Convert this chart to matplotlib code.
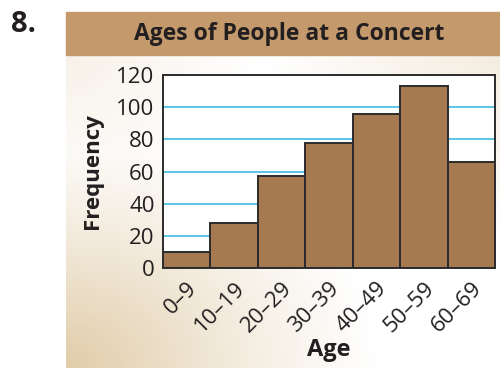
import numpy as np
import matplotlib.pyplot as plt
from matplotlib.patches import Rectangle

# histogram data
age_groups = ['0–9', '10–19', '20–29', '30–39', '40–49', '50–59', '60–69']
frequency = [10, 28, 57, 78, 96, 113, 66]
y_ticks = [0, 20, 40, 60, 80, 100, 120]

plt.rcParams['font.family'] = ['Open Sans', 'DejaVu Sans']
W, H = 500, 368
fig = plt.figure(figsize=(W / 100, H / 100), dpi=100)

# panel background with a soft beige gradient
bg = fig.add_axes([66 / W, 0, (W - 66) / W, (H - 55) / H])
bg.axis('off')
gx, gy = np.meshgrid(np.linspace(0, 1, 200), np.linspace(1, 0, 150))
d_bl = np.sqrt((gx * 1.1) ** 2 + gy ** 2)
w = np.clip(1 - d_bl / 0.8, 0, 1) ** 1.2
d_tr = np.sqrt(((1 - gx) * 1.1) ** 2 + (1 - gy) ** 2)
w = np.maximum(w, 0.35 * np.clip(1 - d_tr / 0.6, 0, 1))
w = np.maximum(w, 0.25 * np.clip(1 - np.sqrt((gx * 1.1) ** 2 + (1 - gy) ** 2) / 0.5, 0, 1))
beige = np.array([0.88, 0.80, 0.66])
img = (1 - w[..., None]) * np.ones(3) + w[..., None] * beige
bg.imshow(img, origin='upper', aspect='auto', extent=[0, 1, 0, 1])
bg.set_xlim(0, 1)
bg.set_ylim(0, 1)

# header band
fig.patches.append(Rectangle((66 / W, 1 - 55 / H), (W - 66) / W, 43 / H,
                             transform=fig.transFigure, color='#c49a6c', zorder=0))
fig.text(289 / W, 1 - 34 / H, 'Ages of People at a Concert', ha='center', va='center',
         fontsize=16.5, fontweight='bold', color='#231f20')
fig.text(11 / W, 1 - 24 / H, '8.', ha='left', va='center',
         fontsize=21, fontweight='bold', color='#231f20')

ax = fig.add_axes([163 / W, 1 - 268 / H, 332 / W, 193 / H])
x = np.arange(len(age_groups))
ax.bar(x, frequency, width=1.0, color='#a57a50', edgecolor='#2b2b2b', linewidth=1.4, zorder=3)
for t in y_ticks[1:-1]:
    ax.axhline(t, color='#4dbfe6', linewidth=1.3, zorder=1)
ax.set_xlim(-0.5, len(age_groups) - 0.5)
ax.set_ylim(0, 120)
ax.set_yticks(y_ticks)
ax.set_xticks(x)
ax.set_xticklabels(age_groups, rotation=45, ha='right', rotation_mode='anchor')
ax.tick_params(length=0, labelsize=16, colors='#231f20', pad=6)
ax.tick_params(axis='x', pad=7)
for s in ax.spines.values():
    s.set_color('#2b2b2b')
    s.set_linewidth(1.4)
    s.set_zorder(4)
ax.set_ylabel('Frequency', fontsize=16, fontweight='bold', color='#231f20', labelpad=10)
ax.set_xlabel('Age', fontsize=17, fontweight='bold', color='#231f20', labelpad=1)

fig.savefig('out.png', dpi=100)
